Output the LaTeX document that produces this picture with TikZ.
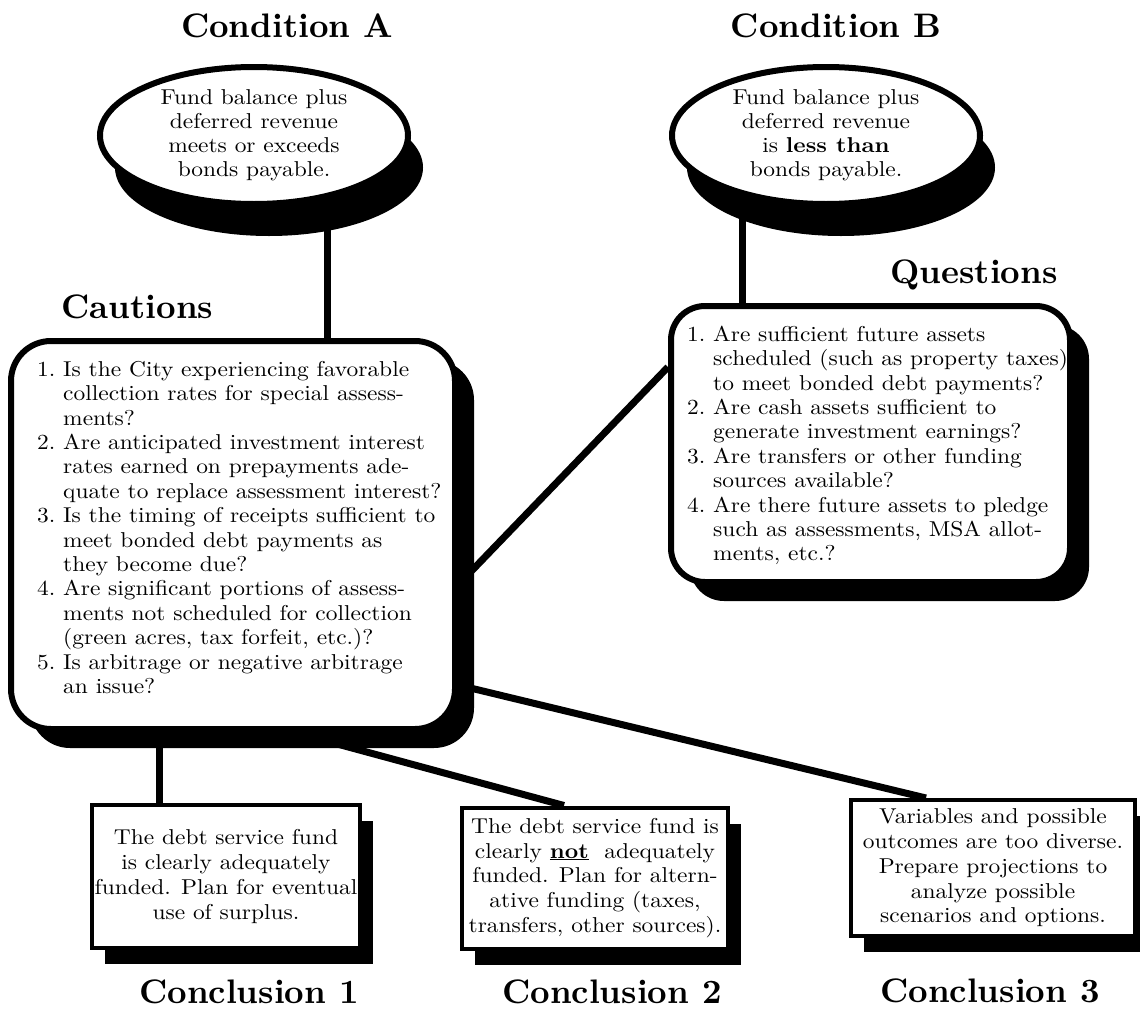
\documentclass[tikz,border=0pt]{standalone}
\usepackage{fontspec}
\setmainfont{lmroman10-regular}[Extension=.otf, BoldFont=lmroman10-bold, FakeStretch=1.09]
\newfontfamily\headfont{lmroman10-bold}[Extension=.otf]
\usepackage{tikz}
\usetikzlibrary{shapes.geometric, shadows, backgrounds, calc}
\newcommand{\bodysize}{\fontsize{21.5}{24.4}\selectfont}
\tikzset{
  ovalnode/.style={
    ellipse, draw=black, fill=white, line width=6pt,
    minimum width=308pt, minimum height=137pt, inner sep=0pt,
    align=center, font=\fontsize{21.5}{24}\selectfont,
    general shadow={fill=black, shadow xshift=15pt, shadow yshift=-32pt}
  },
  roundbox/.style={
    rectangle, rounded corners=40pt,
    draw=black, fill=white, line width=6pt,
    general shadow={fill=black, shadow xshift=19pt, shadow yshift=-19pt}
  },
  plainbox/.style={
    rectangle, draw=black, fill=white, line width=4pt, inner sep=2pt,
    align=center, font=\fontsize{21.5}{24.8}\selectfont,
    general shadow={fill=black, shadow xshift=13pt, shadow yshift=-16pt}
  },
  listtext/.style={
    anchor=north west, inner sep=0pt, font=\bodysize
  },
  headlabel/.style={
    anchor=base, inner sep=0pt,
    font=\headfont\fontsize{34}{40}\selectfont
  },
  link/.style={
    line width=7pt, draw=black
  }
}

\begin{document}
\begin{tikzpicture}[x=1pt, y=-1pt]

  \useasboundingbox (0,0) rectangle (1140,1009);

  % ── Conditions ─────────────────────────────────────────────────────────
  \node[headlabel] (condA) at (287,37) {Condition A};
  \node[ovalnode]  (ovalA) at (254,135.5)
    {Fund balance plus\\deferred revenue\\meets or exceeds\\bonds payable.};

  \node[headlabel] (condB) at (836,37) {Condition B};
  \node[ovalnode]  (ovalB) at (826,135.5)
    {Fund balance plus\\deferred revenue\\is \textbf{less than}\\bonds payable.};

  % ── Cautions ───────────────────────────────────────────────────────────
  \node[headlabel] (cauhead) at (137.5,318) {Cautions};
  \node[roundbox, minimum width=444pt, minimum height=388pt] (caubox) at (233,535) {};
  \node[listtext] (cautext) at (37,359) {%
    \begin{tabular}{@{}r@{~}l@{}}
      1. & Is the City experiencing favorable\\
         & collection rates for special assess-\\
         & ments?\\
      2. & Are anticipated investment interest\\
         & rates earned on prepayments ade-\\
         & quate to replace assessment interest?\\
      3. & Is the timing of receipts sufficient to\\
         & meet bonded debt payments as\\
         & they become due?\\
      4. & Are significant portions of assess-\\
         & ments not scheduled for collection\\
         & (green acres, tax forfeit, etc.)?\\
      5. & Is arbitrage or negative arbitrage\\
         & an issue?
    \end{tabular}};

  % ── Questions ──────────────────────────────────────────────────────────
  \node[headlabel] (qhead) at (974,283) {Questions};
  \node[roundbox, rounded corners=34pt, minimum width=399pt, minimum height=276pt] (qbox) at (870.5,444) {};
  \node[listtext] (qtext) at (687,324) {%
    \begin{tabular}{@{}r@{~}l@{}}
      1. & Are sufficient future assets\\
         & scheduled (such as property taxes)\\
         & to meet bonded debt payments?\\
      2. & Are cash assets sufficient to\\
         & generate investment earnings?\\
      3. & Are transfers or other funding\\
         & sources available?\\
      4. & Are there future assets to pledge\\
         & such as assessments, MSA allot-\\
         & ments, etc.?
    \end{tabular}};

  % ── Conclusions ────────────────────────────────────────────────────────
  \node[plainbox, minimum width=268pt, minimum height=143pt] (c1box) at (226,876.5)
    {The debt service fund\\is clearly adequately\\funded. Plan for eventual\\use of surplus.};
  \node[plainbox, minimum width=266pt, minimum height=141pt] (c2box) at (595,878)
    {The debt service fund is\\clearly \underline{\textbf{not}}\ \ adequately\\funded. Plan for altern-\\ative funding (taxes,\\transfers, other sources).};
  \node[plainbox, minimum width=284pt, minimum height=136pt] (c3box) at (993,868)
    {Variables and possible\\outcomes are too diverse.\\Prepare projections to\\analyze possible\\scenarios and options.};

  \node[headlabel] (c1head) at (249,1003) {Conclusion 1};
  \node[headlabel] (c2head) at (612,1003) {Conclusion 2};
  \node[headlabel] (c3head) at (990,1002) {Conclusion 3};

  % ── connectors (behind the shapes) ─────────────────────────────────────
  \begin{scope}[on background layer]
    \coordinate (aDrop)  at ([xshift=73pt]ovalA.center);
    \coordinate (bDrop)  at ([xshift=-84pt]ovalB.center);
    \coordinate (c1Drop) at ([xshift=-74pt]caubox.south);
    \draw[link] (aDrop)  -- (aDrop |- caubox.north);
    \draw[link] (bDrop)  -- (bDrop |- qbox.north);
    \draw[link] ([yshift=-50pt]caubox.east)  -- ([yshift=77pt]qbox.west);
    \draw[link] (c1Drop) -- (c1Drop |- c1box.north);
    \draw[link] ([xshift=60pt]caubox.south)  -- ([xshift=-31pt]c2box.north);
    \draw[link] ([yshift=-150pt]caubox.east) -- ([xshift=-67pt]c3box.north);
  \end{scope}

\end{tikzpicture}
\end{document}
